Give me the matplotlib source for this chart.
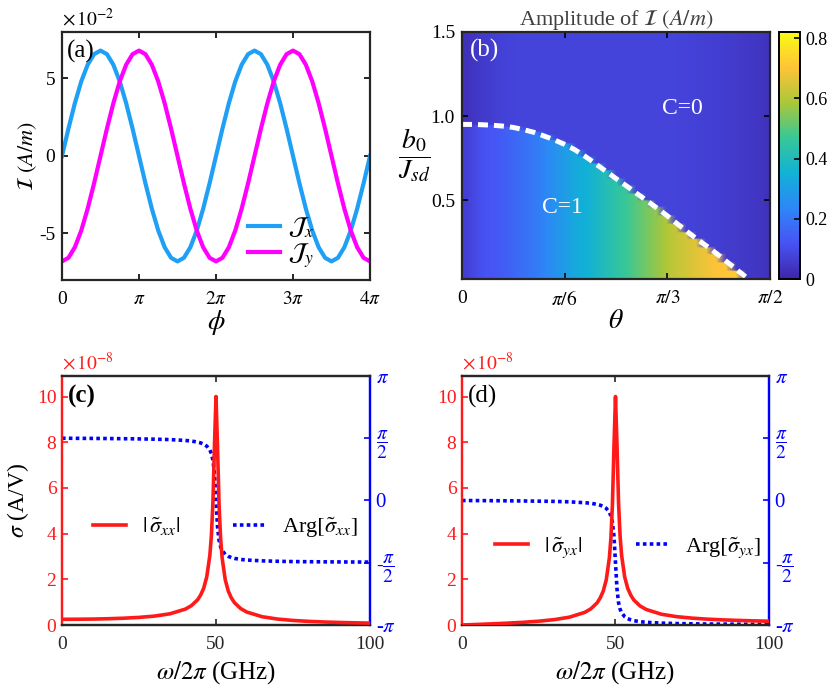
import numpy as np
import matplotlib
matplotlib.use('Agg')
import matplotlib.pyplot as plt
from matplotlib.colors import LinearSegmentedColormap

plt.rcParams['font.family'] = ['Liberation Serif', 'DejaVu Serif']
plt.rcParams['mathtext.fontset'] = 'stix'
plt.rcParams['axes.unicode_minus'] = False

# ---------------- data (a): current components, units of 1e-2 A/m
jx_period = [0, 1.76, 3.40, 4.81, 5.89, 6.57, 6.80, 6.57, 5.89, 4.81, 3.40, 1.76,
             0, -1.76, -3.40, -4.81, -5.89, -6.57, -6.80, -6.57, -5.89, -4.81, -3.40, -1.76]
jy_period = [-6.80, -6.57, -5.89, -4.81, -3.40, -1.76, 0, 1.76, 3.40, 4.81, 5.89, 6.57,
             6.80, 6.57, 5.89, 4.81, 3.40, 1.76, 0, -1.76, -3.40, -4.81, -5.89, -6.57]
jx = jx_period * 2 + [0]
jy = jy_period * 2 + [-6.80]

# ---------------- data (b): amplitude map
# one column per theta step of pi/60 (0 .. pi/2)
b_boundary = [0.950, 0.950, 0.948, 0.945, 0.940, 0.932, 0.919, 0.903, 0.881, 0.858,
              0.831, 0.799, 0.760, 0.716, 0.672, 0.628, 0.585, 0.540, 0.496, 0.452,
              0.406, 0.357, 0.309, 0.262, 0.219, 0.172, 0.123, 0.074, 0.025, 0.0, 0.0]
amp_c1 = [0.07, 0.10, 0.12, 0.13, 0.15, 0.17, 0.19, 0.21, 0.24, 0.27,
          0.30, 0.33, 0.35, 0.38, 0.41, 0.44, 0.47, 0.50, 0.53, 0.56,
          0.59, 0.62, 0.64, 0.66, 0.68, 0.70, 0.71, 0.72, 0.73, 0.73, 0.73]
amp_c0 = [0.03, 0.05, 0.06, 0.07, 0.075, 0.08, 0.08, 0.08, 0.08, 0.08,
          0.08, 0.08, 0.08, 0.08, 0.08, 0.08, 0.08, 0.08, 0.08, 0.08,
          0.08, 0.078, 0.075, 0.072, 0.07, 0.065, 0.06, 0.055, 0.05, 0.045, 0.035]

# ---------------- data (c), (d): conductivity spectra
freq = [0, 5, 10, 15, 20, 25, 30, 35, 40, 42, 44, 45, 46, 47, 48, 48.5, 49, 49.5, 50,
        50.5, 51, 51.5, 52, 53, 54, 55, 56, 58, 60, 65, 70, 75, 80, 85, 90, 95, 100]
sig_xx = [0.25, 0.253, 0.26, 0.275, 0.298, 0.333, 0.39, 0.49, 0.693, 0.847, 1.10, 1.31,
          1.61, 2.11, 3.05, 3.91, 5.37, 7.87, 10.0, 7.75, 5.23, 3.78, 2.92, 1.98, 1.48,
          1.18, 0.977, 0.72, 0.567, 0.362, 0.26, 0.2, 0.16, 0.132, 0.112, 0.096, 0.083]
arg_xx = [1.571, 1.568, 1.566, 1.563, 1.559, 1.554, 1.547, 1.537, 1.515, 1.500, 1.474,
          1.453, 1.422, 1.371, 1.274, 1.182, 1.017, 0.677, 0.0, -0.672, -1.008, -1.171,
          -1.262, -1.360, -1.410, -1.441, -1.461, -1.487, -1.502, -1.523, -1.534, -1.541,
          -1.545, -1.548, -1.550, -1.552, -1.554]
sig_yx = [0.0, 0.025, 0.052, 0.083, 0.119, 0.167, 0.234, 0.343, 0.554, 0.711, 0.968, 1.18,
          1.48, 1.98, 2.93, 3.79, 5.26, 7.79, 10.0, 7.83, 5.33, 3.89, 3.04, 2.10, 1.60,
          1.30, 1.09, 0.835, 0.68, 0.47, 0.364, 0.30, 0.256, 0.224, 0.202, 0.182, 0.166]
arg_yx = [0.0, -0.003, -0.005, -0.008, -0.012, -0.017, -0.023, -0.034, -0.056, -0.071,
          -0.097, -0.118, -0.149, -0.199, -0.297, -0.389, -0.554, -0.894, -1.571, -2.243,
          -2.579, -2.742, -2.833, -2.931, -2.981, -3.012, -3.032, -3.058, -3.073, -3.094,
          -3.105, -3.112, -3.116, -3.119, -3.121, -3.123, -3.125]

# MATLAB parula-like colormap
parula = LinearSegmentedColormap.from_list('parula', [
    (0.2422, 0.1504, 0.6603), (0.2810, 0.3228, 0.9579), (0.1786, 0.5289, 0.9682),
    (0.0689, 0.6948, 0.8394), (0.2161, 0.7843, 0.5923), (0.6720, 0.7793, 0.2227),
    (0.9970, 0.7659, 0.2199), (0.9769, 0.9839, 0.0805)])

SPINE = '#262626'
TICK_FS = 14
RED = '#ff1a1a'
BLUE = '#0000ff'


def style_box(ax):
    for s in ax.spines.values():
        s.set_linewidth(1.6)
        s.set_color(SPINE)
    ax.tick_params(direction='in', top=True, right=True, length=4, width=1.2,
                   labelsize=TICK_FS, pad=8)


fig = plt.figure(figsize=(8.3, 6.91), dpi=100)

# ---------------- (a)
ax_a = fig.add_axes([0.0747, 0.5948, 0.3711, 0.3589])
phi = np.linspace(0, 4 * np.pi, len(jx))
ax_a.plot(phi, jx, color='#1fa0f5', lw=3, label=r'$\mathcal{J}_x$')
ax_a.plot(phi, jy, color='#ff00ff', lw=3, label=r'$\mathcal{J}_y$')
ax_a.set_xlim(0, 4 * np.pi)
ax_a.set_ylim(-8, 8)
ax_a.set_xticks([0, np.pi, 2 * np.pi, 3 * np.pi, 4 * np.pi])
ax_a.set_xticklabels(['0', r'$\pi$', r'$2\pi$', r'$3\pi$', r'$4\pi$'])
ax_a.set_yticks([-5, 0, 5])
style_box(ax_a)
ax_a.tick_params(axis='y', pad=5)
ax_a.set_xlabel(r'$\phi$', fontsize=20, labelpad=0)
ax_a.set_ylabel(r'$\mathcal{I}\ (A/m)$', fontsize=16, labelpad=0)
ax_a.legend(loc='center', bbox_to_anchor=(0.71, 0.15), frameon=False, fontsize=18,
            handlelength=1.3, handletextpad=0.3, labelspacing=0.05, borderpad=0)
ax_a.text(0.015, 0.97, '(a)', transform=ax_a.transAxes, fontsize=18, va='top', ha='left')
fig.text(62 / 830, 1 - 19 / 691, r'$\times\,10^{-2}$', fontsize=14, va='center', ha='left')

# ---------------- (b)
ax_b = fig.add_axes([0.5566, 0.5962, 0.3711, 0.3575])
b_rows = np.linspace(0.03, 1.5, 148)
below = b_rows[:, None] < np.array(b_boundary)[None, :]
amp_map = np.where(below, np.array(amp_c1)[None, :], np.array(amp_c0)[None, :])
im = ax_b.imshow(amp_map, origin='lower', aspect='auto', cmap=parula, vmin=0, vmax=0.82,
                 extent=[0, np.pi / 2, 0.03, 1.5], interpolation='bilinear')
theta_cols = np.linspace(0, np.pi / 2, len(b_boundary))
ax_b.plot(theta_cols[:29], b_boundary[:29], color='white', lw=3.6, dashes=(2.0, 1.2),
          solid_capstyle='butt', dash_capstyle='butt')
ax_b.set_xlim(0, np.pi / 2)
ax_b.set_ylim(0.03, 1.5)
ax_b.set_xticks([0, np.pi / 6, np.pi / 3, np.pi / 2])
ax_b.set_xticklabels(['0', r'$\pi/6$', r'$\pi/3$', r'$\pi/2$'])
ax_b.set_yticks([0.5, 1.0, 1.5])
ax_b.set_yticklabels(['0.5', '1.0', '1.5'])
style_box(ax_b)
ax_b.tick_params(axis='y', pad=5)
ax_b.set_xlabel(r'$\theta$', fontsize=20, labelpad=0)
ax_b.set_ylabel(r'$\dfrac{b_0}{J_{sd}}$', fontsize=20, rotation=0, labelpad=12, va='center')
ax_b.set_title(r'Amplitude of $\mathcal{I}\ (A/m)$', fontsize=16, color='#404040', pad=5)
ax_b.text(0.025, 0.97, '(b)', transform=ax_b.transAxes, fontsize=18, va='top', ha='left',
          color='white')
ax_b.text(0.715, 0.69, 'C=0', transform=ax_b.transAxes, fontsize=17, color='white',
          ha='center', va='center')
ax_b.text(0.325, 0.29, 'C=1', transform=ax_b.transAxes, fontsize=17, color='white',
          ha='center', va='center')

cax = fig.add_axes([0.9386, 0.5962, 0.0253, 0.3575])
cb = fig.colorbar(im, cax=cax, ticks=[0, 0.2, 0.4, 0.6, 0.8])
cb.ax.set_yticklabels(['0', '0.2', '0.4', '0.6', '0.8'])
cb.outline.set_linewidth(1.4)
cb.outline.set_edgecolor('black')
cax.tick_params(direction='in', length=4, width=1.2, labelsize=13, pad=4)


# ---------------- (c), (d)
def spectrum_panel(rect, amp, arg, label, mag_lbl, arg_lbl, leg_pos):
    ax = fig.add_axes(rect)
    ax2 = ax.twinx()
    ax.plot(freq, amp, color=RED, lw=2.6, label=mag_lbl, zorder=3)
    ax2.plot(freq, arg, color=BLUE, lw=2.6, linestyle=(0, (1, 0.9)), label=arg_lbl)
    ax.set_zorder(ax2.get_zorder() + 1)
    ax.patch.set_visible(False)
    ax.set_xlim(0, 100)
    ax.set_ylim(0, 10.9)
    ax2.set_ylim(-np.pi, np.pi)
    ax.set_xticks([0, 50, 100])
    ax.set_yticks([0, 2, 4, 6, 8, 10])
    ax2.set_yticks([-np.pi, -np.pi / 2, 0, np.pi / 2, np.pi])
    ax2.set_yticklabels([r'-$\pi$', r'-$\dfrac{\pi}{2}$', '0', r'$\dfrac{\pi}{2}$', r'$\pi$'])
    for a in (ax, ax2):
        for s in a.spines.values():
            s.set_linewidth(1.6)
            s.set_color(SPINE)
    ax.spines['left'].set_color(RED)
    ax2.spines['left'].set_color(RED)
    ax2.spines['right'].set_color(BLUE)
    ax.spines['right'].set_color(BLUE)
    ax.tick_params(axis='x', direction='in', top=True, length=4, width=1.2,
                   labelsize=TICK_FS, pad=8, colors=SPINE)
    ax.tick_params(axis='y', direction='in', length=4, width=1.2, labelsize=TICK_FS,
                   pad=4, colors=RED)
    ax2.tick_params(axis='y', direction='in', length=4, width=1.2, labelsize=TICK_FS + 1,
                    pad=4, colors=BLUE)
    # fraction labels sized to match the original
    for t in ax2.get_yticklabels():
        if 'dfrac' in t.get_text():
            t.set_fontsize(14)
    ax.set_xlabel(r'$\omega/2\pi$ (GHz)', fontsize=18, labelpad=4)
    ax.text(0.02, 0.965, label, transform=ax.transAxes, fontsize=18, va='top', ha='left',
            fontweight='bold' if label == '(c)' else 'normal')
    h1, l1 = ax.get_legend_handles_labels()
    h2, l2 = ax2.get_legend_handles_labels()
    ax.legend(h1 + h2, l1 + l2, ncol=2, loc='center', bbox_to_anchor=leg_pos,
              frameon=False, fontsize=16, handlelength=1.5, handletextpad=0.7,
              columnspacing=2.4, borderpad=0)
    fig.text(rect[0], rect[1] + rect[3] + 13 / 691, r'$\times\,10^{-8}$', fontsize=14,
             color=RED, va='center', ha='left')
    return ax


ax_c = spectrum_panel([0.0747, 0.0955, 0.3711, 0.3604], sig_xx, arg_xx, '(c)',
                      r'$|\,\tilde{\sigma}_{xx}|$', r'Arg$[\tilde{\sigma}_{xx}]$', (0.53, 0.39))
ax_c.set_ylabel(r'$\sigma$ (A/V)', fontsize=17, labelpad=4)
ax_d = spectrum_panel([0.5566, 0.0955, 0.3699, 0.3604], sig_yx, arg_yx, '(d)',
                      r'$|\,\tilde{\sigma}_{yx}|$', r'Arg$[\tilde{\sigma}_{yx}]$', (0.54, 0.31))

fig.savefig('out.png', dpi=100)
